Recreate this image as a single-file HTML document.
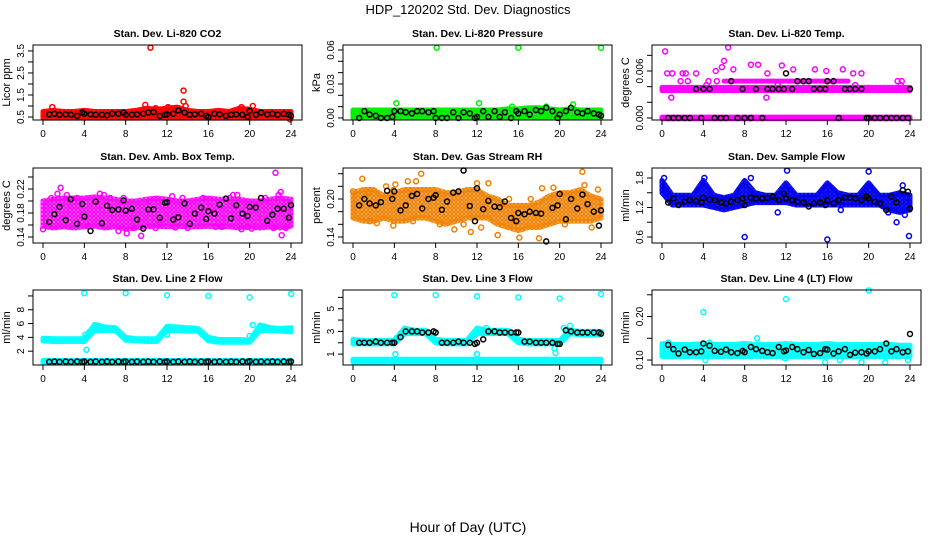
<!DOCTYPE html>
<html><head><meta charset="utf-8">
<style>
html,body{margin:0;padding:0;background:#fff;}
svg{display:block;font-family:"Liberation Sans",Arial,sans-serif;}
</style></head>
<body>
<svg id="chart" width="936" height="540" viewBox="0 0 936 540" xmlns="http://www.w3.org/2000/svg">
<defs id="defs"></defs>
<text x="468" y="14" text-anchor="middle" font-size="13">HDP_120202  Std. Dev. Diagnostics</text>
<text x="468" y="532" text-anchor="middle" font-size="14">Hour of Day (UTC)</text>
</svg>
<script>
// shared x tick labels and black-sample hours
const xTicks = [0,4,8,12,16,20,24];
const bandHours = [0,1,2,3,4,5,6,7,8,9,10,11,12,13,14,15,16,17,18,19,20,21,22,23,24];
const blackHours = [0.6,1.1,1.6,2.2,2.7,3.3,3.8,4.0,4.6,5.1,5.7,6.2,6.7,7.3,7.8,8.0,8.6,9.1,9.7,10.2,10.7,11.3,11.8,12.0,12.6,13.1,13.7,14.2,14.7,15.3,15.8,16.0,16.6,17.1,17.7,18.2,18.7,19.3,19.8,20.0,20.6,21.1,21.7,22.2,22.7,23.3,23.8,24.0];

// Panel 1: CO2
const co2Lo = [0.45,0.45,0.45,0.45,0.45,0.45,0.45,0.45,0.45,0.45,0.45,0.45,0.45,0.45,0.45,0.45,0.45,0.45,0.45,0.45,0.45,0.45,0.45,0.45,0.45];
const co2Hi = [0.75,0.8,0.75,0.75,0.8,0.75,0.75,0.75,0.75,0.8,0.9,0.85,0.9,0.95,0.8,0.75,0.75,0.8,0.75,0.9,0.85,0.75,0.75,0.75,0.75];
const co2Out = [[10.4,3.65],[13.6,1.7],[13.6,1.2],[13.8,1.0],[9.9,1.05],[20.3,1.0],[0.9,0.95],[10.9,0.9],[12.1,0.95],[23.9,0.4],[19.2,0.95]];
const co2Black = [0.62,0.65,0.6,0.62,0.6,0.55,0.7,0.65,0.62,0.6,0.6,0.58,0.65,0.65,0.7,0.6,0.6,0.62,0.65,0.7,0.72,0.55,0.6,0.62,0.65,0.8,0.7,0.6,0.62,0.65,0.55,0.5,0.65,0.62,0.55,0.6,0.62,0.6,0.5,0.78,0.6,0.7,0.62,0.65,0.6,0.65,0.6,0.55];

// Panel 2: Pressure
const presLo = [0,0,0,0,0,0,0,0,0,0,0,0,0,0,0,0,0,0,0,0,0,0,0,0,0];
const presHi = [0.007,0.007,0.007,0.007,0.007,0.007,0.007,0.007,0.007,0.007,0.007,0.007,0.007,0.007,0.007,0.008,0.008,0.009,0.009,0.008,0.007,0.008,0.007,0.007,0.007];
const presOut = [[8.1,0.062],[16,0.062],[24,0.062],[4.2,0.013],[12.2,0.013],[21.3,0.012],[15.4,0.01],[18.7,0.01]];
const presBlack = [0.0,0.006,0.003,0.002,0.0,0.0,0.001,0.006,0.006,0.005,0.004,0.006,0.006,0.005,0.006,0.0,0.0,0.0,0.005,0.0,0.005,0.004,0.0,0.001,0.006,0.001,0.006,0.001,0.005,0.0,0.006,0.004,0.006,0.003,0.007,0.006,0.009,0.006,0.0,0.003,0.006,0.009,0.005,0.004,0.006,0.004,0.003,0.002];

// Panel 3: Li-820 Temp
const tmpALo = [0.0035,0.0035,0.0035,0.0035,0.0035,0.0035,0.0035,0.0035,0.0035,0.0035,0.0035,0.0035,0.0035,0.0035,0.0035,0.0035,0.0035,0.0035,0.0035,0.0035,0.0035,0.0035,0.0035,0.0035,0.0035];
const tmpAHi = [0.0039,0.0039,0.0039,0.0039,0.0039,0.0039,0.0039,0.0039,0.0039,0.0039,0.0039,0.0039,0.0039,0.0039,0.0039,0.0039,0.0039,0.0039,0.0039,0.0039,0.0039,0.0039,0.0039,0.0039,0.0039];
const tmpBLo = [-0.0001,-0.0001,-0.0001,-0.0001,-0.0001,-0.0001,-0.0001,-0.0001,-0.0001,-0.0001,-0.0001,-0.0001,-0.0001,-0.0001,-0.0001,-0.0001,-0.0001,-0.0001,-0.0001,-0.0001,-0.0001,-0.0001,-0.0001,-0.0001,-0.0001];
const tmpBHi = [0.0001,0.0001,0.0001,0.0001,0.0001,0.0001,0.0001,0.0001,0.0001,0.0001,0.0001,0.0001,0.0001,0.0001,0.0001,0.0001,0.0001,0.0001,0.0001,0.0001,0.0001,0.0001,0.0001,0.0001,0.0001];
const tmpCLo = [null,null,null,null,null,null,0.0047,0.0047,0.0047,0.0047,0.0047,0.0047,0.0047,0.0047,0.0047,0.0047,0.0047,0.0047,0.0047,null,null,null,null,null,null];
const tmpCHi = [null,null,null,null,null,null,0.0047,0.0047,0.0047,0.0047,0.0047,0.0047,0.0047,0.0047,0.0047,0.0047,0.0047,0.0047,0.0047,null,null,null,null,null,null];
const tmpOut = [[0.5,0.0057],[1.0,0.0057],[2.0,0.0057],[2.3,0.0057],[3.3,0.0057],[5.2,0.006],[5.8,0.0065],[6.9,0.0062],[8.6,0.0068],[9.3,0.0068],[10.2,0.0057],[11.6,0.0067],[12.7,0.0062],[14.8,0.0062],[15.9,0.006],[17.5,0.0062],[18.5,0.0057],[19.3,0.0057],[0.3,0.0085],[6.4,0.009],[6.0,0.0073],[0.9,0.0026],[10.1,0.0026],[4.3,0.0042],[11.2,0.0042],[18.7,0.0042],[23.1,0.0042],[23.2,0.0047],[22.8,0.0047],[2.5,0.0047],[1.8,0.0047],[5.3,0.0047],[4.5,0.0047]];
const tmpBlack = [0,0,0,0,0,0.0037,0,0.0037,0.0037,0,0,0,0.0047,0,0.0037,0,0,0.0037,0,0.0037,0.0037,0.0037,0.0037,0.0057,0.0037,0.0047,0.0047,0.0047,0.0037,0.0037,0.0037,0.0047,0.0047,0,0.0037,0.0037,0.0037,0.0037,0,0,0,0,0,0,0,0,0,0.0037];

// Panel 4: Amb. Box Temp
const boxLo = [0.158,0.155,0.157,0.155,0.157,0.158,0.155,0.157,0.153,0.155,0.157,0.158,0.157,0.158,0.157,0.157,0.158,0.157,0.157,0.155,0.157,0.155,0.157,0.155,0.158];
const boxHi = [0.2,0.203,0.205,0.205,0.205,0.207,0.205,0.203,0.2,0.2,0.203,0.205,0.203,0.2,0.2,0.203,0.205,0.203,0.203,0.203,0.2,0.2,0.203,0.205,0.203];
const boxOut = [[0,0.153],[1.7,0.222],[1.4,0.212],[2.3,0.21],[5.5,0.212],[5.9,0.21],[7.3,0.15],[8.1,0.146],[8.8,0.155],[9.5,0.142],[10.3,0.2],[11.3,0.162],[12.5,0.208],[14,0.155],[17.3,0.157],[18.4,0.21],[18.8,0.21],[19.2,0.153],[20.2,0.154],[22.5,0.247],[22.8,0.21],[23,0.215],[23.1,0.143],[23.5,0.155],[22.3,0.155],[0.8,0.205],[3.3,0.205],[4.4,0.158],[6.5,0.205],[10.9,0.155],[13.5,0.205],[15.5,0.205],[16.7,0.157],[18.1,0.205],[19.8,0.157],[21.5,0.205],[0.5,0.158],[7.8,0.205],[12.8,0.156]];
const boxBlack = [0.165,0.178,0.19,0.168,0.203,0.162,0.195,0.174,0.15,0.199,0.163,0.192,0.185,0.186,0.201,0.184,0.187,0.169,0.154,0.186,0.186,0.172,0.197,0.198,0.169,0.173,0.196,0.162,0.179,0.189,0.17,0.183,0.179,0.194,0.204,0.171,0.193,0.179,0.175,0.19,0.189,0.205,0.167,0.177,0.187,0.187,0.172,0.193];

// Panel 5: Gas Stream RH
const rhLo = [0.17,0.165,0.165,0.17,0.165,0.165,0.17,0.17,0.165,0.16,0.165,0.17,0.17,0.17,0.16,0.155,0.15,0.155,0.155,0.16,0.165,0.165,0.165,0.165,0.17];
const rhHi = [0.21,0.215,0.215,0.205,0.21,0.215,0.215,0.215,0.215,0.21,0.21,0.215,0.215,0.205,0.2,0.19,0.19,0.19,0.195,0.205,0.21,0.21,0.215,0.205,0.2];
const rhOut = [[0,0.212],[0.9,0.232],[1.5,0.21],[2.3,0.162],[3.2,0.22],[3.9,0.214],[4.1,0.223],[3.9,0.158],[5.3,0.228],[6.6,0.24],[6.1,0.228],[9.8,0.152],[11.4,0.148],[12,0.225],[12.4,0.155],[13.1,0.225],[14,0.143],[16.1,0.139],[18,0.138],[18.3,0.217],[19.4,0.218],[21.2,0.2],[22.2,0.243],[22.4,0.222],[23.1,0.155],[23.7,0.215],[1.6,0.165],[5.8,0.165],[8.4,0.16],[10.7,0.16],[15.1,0.2],[17.2,0.2],[20.5,0.16]];
const rhBlack = [0.19,0.2,0.193,0.19,0.195,0.213,0.2,0.212,0.182,0.19,0.205,0.208,0.185,0.2,0.202,0.206,0.183,0.196,0.21,0.212,0.245,0.189,0.165,0.217,0.184,0.197,0.188,0.187,0.196,0.17,0.165,0.178,0.176,0.18,0.178,0.177,0.133,0.186,0.19,0.208,0.168,0.2,0.185,0.207,0.192,0.18,0.158,0.182];

// Panel 6: Sample Flow
const sfLo = [1.5,1.25,1.25,1.25,1.25,1.2,1.15,1.2,1.25,1.3,1.3,1.3,1.3,1.25,1.25,1.25,1.25,1.25,1.25,1.25,1.25,1.25,1.15,1.1,1.15];
const sfHi = [1.75,1.45,1.45,1.45,1.75,1.45,1.4,1.45,1.75,1.5,1.45,1.45,1.7,1.45,1.45,1.45,1.7,1.5,1.45,1.45,1.7,1.45,1.45,1.5,1.45];
const sfOut = [[8,0.6],[16,0.55],[23.9,0.62],[12.1,1.95],[20,1.93],[22.7,0.9],[0.2,1.8],[4.1,1.8],[8.6,1.8],[11.2,1.1],[17.3,1.15],[21.9,1.1],[23.5,1.05],[23.3,1.65]];
const sfBlack = [1.3,1.38,1.25,1.32,1.35,1.33,1.3,1.4,1.36,1.35,1.3,1.28,1.32,1.35,1.38,1.25,1.4,1.38,1.38,1.4,1.42,1.35,1.48,1.38,1.35,1.32,1.3,1.22,1.28,1.3,1.25,1.35,1.28,1.35,1.4,1.4,1.38,1.35,1.42,1.38,1.32,1.28,1.15,1.42,1.3,1.55,1.52,1.18];

// Panel 7: Line 2 Flow
const l2ALo = [3.5,3.4,3.4,3.4,3.4,5.0,5.0,5.0,3.6,3.5,3.4,3.4,5.0,5.0,4.9,4.9,3.5,3.3,3.3,3.3,3.3,5.0,5.0,4.9,4.8];
const l2AHi = [3.9,3.8,3.8,3.8,3.8,5.9,5.5,5.4,4.0,3.8,3.8,3.8,5.6,5.5,5.4,5.3,4.0,3.7,3.7,3.7,3.6,5.8,5.4,5.3,5.4];
const l2BLo = [0.3,0.3,0.3,0.3,0.3,0.3,0.3,0.3,0.3,0.3,0.3,0.3,0.3,0.3,0.3,0.3,0.3,0.3,0.3,0.3,0.3,0.3,0.3,0.3,0.3];
const l2BHi = [0.65,0.65,0.65,0.65,0.65,0.65,0.65,0.65,0.65,0.65,0.65,0.65,0.65,0.65,0.65,0.65,0.65,0.65,0.65,0.65,0.65,0.65,0.65,0.65,0.65];
const l2Out = [[4,10.4],[8,10.4],[12,10.1],[16,10],[20,9.8],[24,10.3],[4.2,2.2],[4.5,4.8],[4.1,4.4],[12,4.4],[12.1,5.5],[20.3,5.8],[20,4.2]];
const l2Black = [0.45,0.5,0.45,0.5,0.45,0.5,0.45,0.5,0.45,0.5,0.45,0.5,0.45,0.5,0.45,0.5,0.45,0.5,0.45,0.5,0.45,0.5,0.45,0.5,0.45,0.5,0.45,0.5,0.45,0.5,0.45,0.5,0.45,0.5,0.45,0.5,0.45,0.5,0.45,0.55,0.45,0.5,0.45,0.5,0.45,0.5,0.45,0.5];

// Panel 8: Line 3 Flow
const l3ALo = [1.9,1.9,1.9,1.9,1.9,2.8,2.8,2.8,2.0,1.9,1.9,1.9,2.8,2.8,2.8,2.8,2.0,1.9,1.9,1.9,1.9,2.8,2.7,2.7,2.7];
const l3AHi = [2.3,2.2,2.2,2.2,2.2,3.3,3.1,3.1,2.3,2.2,2.2,2.2,3.3,3.1,3.1,3.1,2.3,2.2,2.2,2.2,2.2,3.1,3.0,3.0,3.0];
const l3BLo = [0.3,0.3,0.3,0.3,0.3,0.3,0.3,0.3,0.3,0.3,0.3,0.3,0.3,0.3,0.3,0.3,0.3,0.3,0.3,0.3,0.3,0.3,0.3,0.3,0.3];
const l3BHi = [0.55,0.55,0.55,0.55,0.55,0.55,0.55,0.55,0.55,0.55,0.55,0.55,0.55,0.55,0.55,0.55,0.55,0.55,0.55,0.55,0.55,0.55,0.55,0.55,0.55];
const l3Out = [[4,6.2],[8,6.2],[12,6.1],[16,6.0],[20,5.9],[24,6.3],[4.1,1.0],[12,1.0],[19.6,1.1],[19.5,1.5],[21,3.5],[4.2,2.4],[12.9,3.3],[20.4,3.3]];
const l3Black = [2.0,2.0,2.0,2.1,2.0,2.0,2.0,2.0,2.5,3.0,3.0,3.0,2.9,2.9,3.0,2.9,2.0,2.0,2.0,2.1,2.0,2.0,1.9,2.0,2.3,3.0,3.0,2.9,2.9,2.9,2.9,2.9,2.1,2.1,2.0,2.0,2.0,2.0,1.9,1.9,3.1,3.0,2.9,2.9,2.9,2.9,2.9,2.8];

// Panel 9: Line 4 (LT) Flow
const l4Lo = [0.108,0.108,0.108,0.108,0.108,0.108,0.108,0.108,0.108,0.108,0.108,0.108,0.108,0.108,0.108,0.108,0.108,0.108,0.108,0.108,0.108,0.108,0.108,0.108,0.108];
const l4Hi = [0.138,0.136,0.136,0.136,0.138,0.136,0.136,0.136,0.138,0.136,0.136,0.136,0.138,0.136,0.136,0.136,0.138,0.136,0.136,0.136,0.136,0.136,0.136,0.134,0.134];
const l4Out = [[4,0.21],[12,0.24],[20,0.26],[9.2,0.15],[0.6,0.14],[4.6,0.14],[15.8,0.095],[19.3,0.095],[21.6,0.095],[23.8,0.1],[4.2,0.1],[11.9,0.104],[17.2,0.1]];
const l4Black = [0.135,0.125,0.115,0.124,0.118,0.118,0.12,0.138,0.133,0.121,0.119,0.124,0.118,0.116,0.121,0.118,0.13,0.125,0.121,0.118,0.116,0.13,0.12,0.122,0.13,0.125,0.118,0.123,0.114,0.116,0.125,0.124,0.115,0.12,0.125,0.112,0.117,0.118,0.115,0.12,0.12,0.125,0.138,0.12,0.125,0.118,0.12,0.16];

const NS = "http://www.w3.org/2000/svg";
const svg = document.getElementById('chart');
const defs = document.getElementById('defs');
function mk(tag, attrs, parent){
  const e = document.createElementNS(NS, tag);
  for (const k in attrs) e.setAttribute(k, attrs[k]);
  (parent||svg).appendChild(e);
  return e;
}
const colLeft = [33, 343, 652];
const rowTop = [45, 168, 290];
const boxW = 269, boxH = 75;

const panels = [
 {key:'co2', title:'Stan. Dev. Li-820 CO2', ylab:'Licor ppm', col:'#ff0000', dense:0.9, r:0, c:0, dom:[0.364,3.77], ticks:[0.5,1,1.5,2,2.5,3,3.5], labels:['0.5','','1.5','','2.5','','3.5'], bands:[[co2Lo,co2Hi]], out:co2Out, black:co2Black},
 {key:'pressure', title:'Stan. Dev. Li-820 Pressure', ylab:'kPa', col:'#00ee00', dense:0.9, r:0, c:1, dom:[-0.0018,0.0644], ticks:[0,0.01,0.02,0.03,0.04,0.05,0.06], labels:['0.00','','','0.03','','','0.06'], bands:[[presLo,presHi]], out:presOut, black:presBlack},
 {key:'li820-temp', title:'Stan. Dev. Li-820 Temp.', ylab:'degrees C', col:'#ff00ff', dense:0.9, r:0, c:2, dom:[-0.00026,0.00932], ticks:[0,0.002,0.004,0.006,0.008], labels:['0.000','','','0.006',''], bands:[[tmpALo,tmpAHi],[tmpBLo,tmpBHi],[tmpCLo,tmpCHi]], out:tmpOut, black:tmpBlack},
 {key:'box-temp', title:'Stan. Dev. Amb. Box Temp.', ylab:'degrees C', col:'#ff00ff', dense:0.55, r:1, c:0, dom:[0.13,0.255], ticks:[0.14,0.16,0.18,0.2,0.22,0.24], labels:['0.14','','0.18','','0.22',''], bands:[[boxLo,boxHi]], out:boxOut, black:boxBlack},
 {key:'rh', title:'Stan. Dev. Gas Stream RH', ylab:'percent', col:'#f08000', dense:0.55, r:1, c:1, dom:[0.1305,0.249], ticks:[0.14,0.16,0.18,0.2,0.22,0.24], labels:['0.14','','','0.20','',''], bands:[[rhLo,rhHi]], out:rhOut, black:rhBlack},
 {key:'sample-flow', title:'Stan. Dev. Sample Flow', ylab:'ml/min', col:'#0000ee', dense:0.85, r:1, c:2, dom:[0.478,2.003], ticks:[0.6,0.9,1.2,1.5,1.8], labels:['0.6','','1.2','','1.8'], bands:[[sfLo,sfHi]], out:sfOut, black:sfBlack},
 {key:'line2', title:'Stan. Dev. Line 2 Flow', ylab:'ml/min', col:'#00ffff', dense:0.9, r:2, c:0, dom:[0,10.86], ticks:[2,4,6,8,10], labels:['2','4','6','8',''], bands:[[l2ALo,l2AHi],[l2BLo,l2BHi]], out:l2Out, black:l2Black},
 {key:'line3', title:'Stan. Dev. Line 3 Flow', ylab:'ml/min', col:'#00ffff', dense:0.9, r:2, c:1, dom:[0.04,6.65], ticks:[1,2,3,4,5,6], labels:['1','','3','','5',''], bands:[[l3ALo,l3AHi],[l3BLo,l3BHi]], out:l3Out, black:l3Black},
 {key:'line4', title:'Stan. Dev. Line 4 (LT) Flow', ylab:'ml/min', col:'#00ffff', dense:0.8, r:2, c:2, dom:[0.0886,0.261], ticks:[0.1,0.15,0.2,0.25], labels:['0.10','','0.20',''], bands:[[l4Lo,l4Hi]], out:l4Out, black:l4Black}
];

panels.forEach(p => {
  const L = colLeft[p.c], T = rowTop[p.r], B = T + boxH, R = L + boxW;
  const xs = h => L + 10 + h * (boxW - 21) / 24;
  const ys = v => B - (v - p.dom[0]) / (p.dom[1] - p.dom[0]) * boxH;
  const g = mk('g', {});
  
  
  const t = mk('text', {x: L + boxW/2, y: T - 8, 'text-anchor':'middle', 'font-size':10.5, 'font-weight':'bold'}, g);
  t.textContent = p.title;
  
  
  const yl = mk('text', {x:0, y:0, 'text-anchor':'middle', 'font-size':11, transform:`translate(${L-23},${(T+B)/2}) rotate(-90)`}, g);
  yl.textContent = p.ylab;
  
  
  // speckle pattern for dense point clouds
  const pat = mk('pattern', {id:'pat-'+p.key, width:4, height:4, patternUnits:'userSpaceOnUse'}, defs);
  mk('rect', {x:0, y:0, width:4, height:4, fill:p.col, 'fill-opacity':p.dense}, pat);
  mk('circle', {cx:2, cy:2, r:1.6, fill:'none', stroke:p.col, 'stroke-width':1.2}, pat);
  const plot = mk('g', {}, g);
  
  
  p.bands.forEach(bd => {
    const lo = bd[0], hi = bd[1];
    let seg = [];
    const segs = [];
    bandHours.forEach((h, i) => {
      if (lo[i] === null) { if (seg.length) segs.push(seg); seg = []; }
      else seg.push(i);
    });
    if (seg.length) segs.push(seg);
    segs.forEach(s => {
      const top = s.map(i => xs(bandHours[i]) + ',' + ys(hi[i]));
      const bot = s.slice().reverse().map(i => xs(bandHours[i]) + ',' + ys(lo[i]));
      const poly = mk('polygon', {points: top.concat(bot).join(' '), fill:'url(#pat-'+p.key+')', stroke:'url(#pat-'+p.key+')', 'stroke-width':5, 'stroke-linejoin':'round'}, plot);
      
      
    });
  });
  p.out.forEach(pt => {
    const c = mk('circle', {cx: xs(pt[0]), cy: ys(pt[1]), r:2.5, fill:'none', stroke:p.col, 'stroke-width':1.5}, plot);
    
    
  });
  p.black.forEach((v, i) => {
    const c = mk('circle', {cx: xs(blackHours[i]), cy: ys(v), r:2.5, fill:'none', stroke:'#000', 'stroke-width':1.5}, plot);
    
    
  });
  const box = mk('rect', {x:L, y:T, width:boxW, height:boxH, fill:'none', stroke:'#000', 'stroke-width':1}, g);
  
  
  const xa = mk('g', {}, g);
  
  
  xTicks.forEach(h => {
    mk('line', {x1:xs(h), x2:xs(h), y1:B, y2:B+5, stroke:'#000'}, xa);
    const tl = mk('text', {x:xs(h), y:B+17, 'text-anchor':'middle', 'font-size':10}, xa);
    tl.textContent = h;
    
    
  });
  const ya = mk('g', {}, g);
  
  
  p.ticks.forEach((v, i) => {
    mk('line', {x1:L-5, x2:L, y1:ys(v), y2:ys(v), stroke:'#000'}, ya);
    if (p.labels[i]) {
      const tl = mk('text', {x:0, y:0, 'text-anchor':'middle', 'font-size':10, transform:`translate(${L-9},${ys(v)}) rotate(-90)`}, ya);
      tl.textContent = p.labels[i];
      
      
    }
  });
});
</script>
</body></html>
